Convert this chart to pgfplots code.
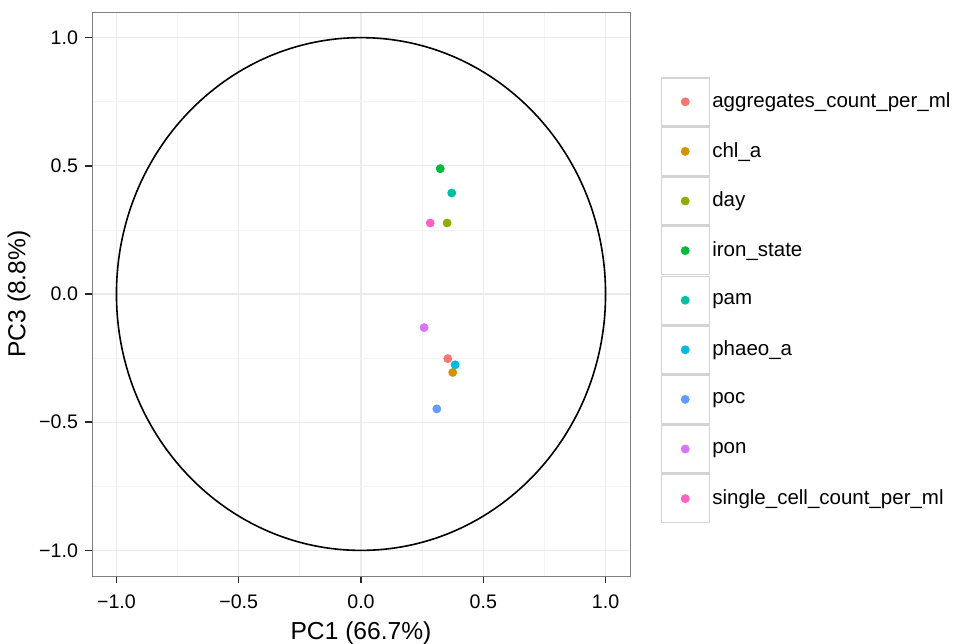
\documentclass[border=0pt]{standalone}
\usepackage{pgfplots}
\pgfplotsset{compat=1.18}
\usepackage{fontspec}
\setmainfont{Liberation Sans}

% ggplot2 default hue palette for nine groups
\definecolor{c1}{HTML}{F8766D}
\definecolor{c2}{HTML}{D39200}
\definecolor{c3}{HTML}{93AA00}
\definecolor{c4}{HTML}{00BA38}
\definecolor{c5}{HTML}{00C19F}
\definecolor{c6}{HTML}{00B9E3}
\definecolor{c7}{HTML}{619CFF}
\definecolor{c8}{HTML}{DB72FB}
\definecolor{c9}{HTML}{FF61C3}
\definecolor{gridmaj}{HTML}{EBEBEB}
\definecolor{gridmin}{HTML}{F4F4F4}
\definecolor{panel}{HTML}{7F7F7F}
\definecolor{keybox}{HTML}{D4D4D4}

\begin{document}
\begin{tikzpicture}
\useasboundingbox (0,0) rectangle (478pt,-321.5pt);
\begin{axis}[
  at={(46pt,-288pt)}, anchor=south west,
  scale only axis, width=269pt, height=282pt,
  xmin=-1.1, xmax=1.1, ymin=-1.1, ymax=1.1,
  axis line style={panel, line width=0.5pt},
  xtick={-1,-0.5,0,0.5,1},
  ytick={-1,-0.5,0,0.5,1},
  xticklabels={−1.0,−0.5,0.0,0.5,1.0},
  yticklabels={−1.0,−0.5,0.0,0.5,1.0},
  minor xtick={-0.75,-0.25,0.25,0.75},
  minor ytick={-0.75,-0.25,0.25,0.75},
  grid=both,
  major grid style={gridmaj, line width=0.6pt},
  minor grid style={gridmin, line width=0.4pt},
  tick align=outside,
  major tick length=3.5pt,
  minor tick length=0pt,
  tick style={black!85, line width=0.7pt},
  xtick pos=bottom, ytick pos=left,
  ticklabel style={font=\fontsize{9.8}{11}\selectfont, black},
  xticklabel style={yshift=-2.2pt},
  xlabel={PC1 (66.7\%)}, ylabel={PC3 (8.8\%)},
  label style={font=\fontsize{12.3}{14}\selectfont},
  ylabel style={yshift=-2.5pt},
  legend cell align=left,
  legend style={at={(1.056,0.489)}, anchor=west, draw=none, fill=none,
    inner sep=0pt, row sep=0.1pt,
    font=\fontsize{10.25}{12}\selectfont,
    nodes={inner sep=1.2pt}},
  legend image code/.code={
    \draw[draw=keybox, fill=white, line width=0.7pt] (0pt,-12pt) rectangle (24pt,12pt);
    \draw plot coordinates {(12pt,0pt)};
  },
  every axis plot/.append style={only marks, mark=*, mark size=2pt},
]
% unit correlation circle
\draw[black, line width=0.8pt] (axis cs:0,0) ellipse [x radius=1, y radius=1];

\addplot[c1, mark options={fill=c1, draw=c1}] coordinates {(0.355,-0.252)};
\addlegendentry{aggregates\_count\_per\_ml}
\addplot[c2, mark options={fill=c2, draw=c2}] coordinates {(0.375,-0.306)};
\addlegendentry{chl\_a}
\addplot[c3, mark options={fill=c3, draw=c3}] coordinates {(0.352,0.277)};
\addlegendentry{day}
\addplot[c4, mark options={fill=c4, draw=c4}] coordinates {(0.324,0.489)};
\addlegendentry{iron\_state}
\addplot[c5, mark options={fill=c5, draw=c5}] coordinates {(0.371,0.394)};
\addlegendentry{pam}
\addplot[c6, mark options={fill=c6, draw=c6}] coordinates {(0.385,-0.276)};
\addlegendentry{phaeo\_a}
\addplot[c7, mark options={fill=c7, draw=c7}] coordinates {(0.310,-0.448)};
\addlegendentry{poc}
\addplot[c8, mark options={fill=c8, draw=c8}] coordinates {(0.258,-0.131)};
\addlegendentry{pon}
\addplot[c9, mark options={fill=c9, draw=c9}] coordinates {(0.283,0.277)};
\addlegendentry{single\_cell\_count\_per\_ml}
\end{axis}
\end{tikzpicture}
\end{document}
